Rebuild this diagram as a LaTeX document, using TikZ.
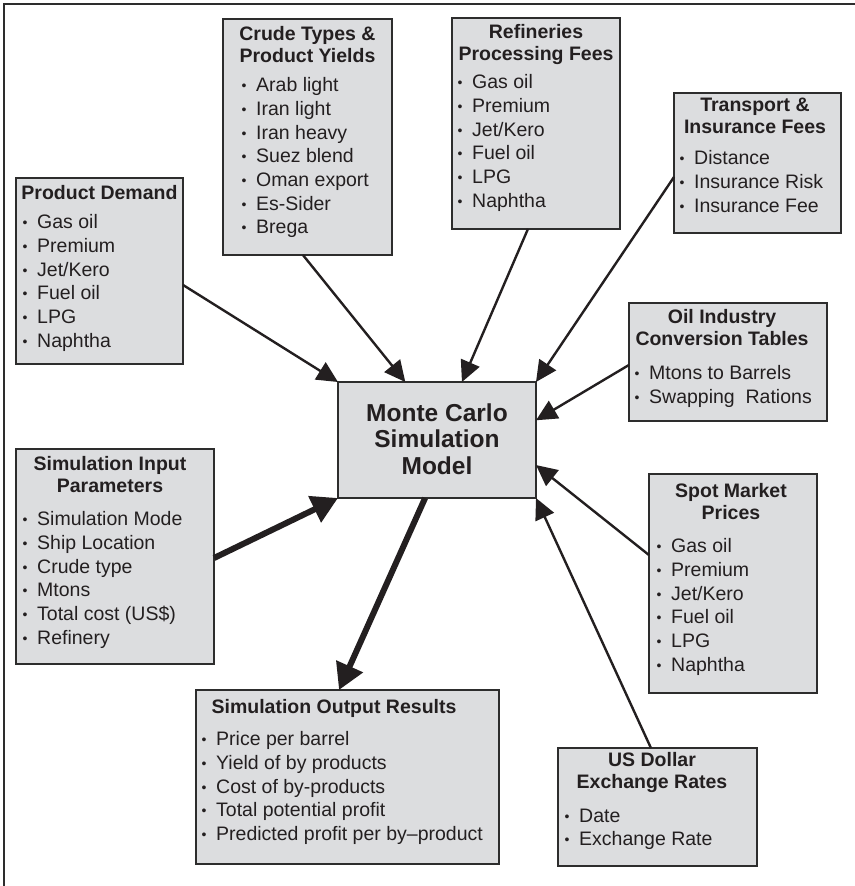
\documentclass[tikz,border=0pt]{standalone}
\usepackage{fontspec}
\setmainfont{Liberation Sans}
\usetikzlibrary{arrows.meta,calc}

\definecolor{boxfill}{RGB}{220,221,223}
\definecolor{inkdark}{RGB}{35,31,32}
\definecolor{edgedark}{RGB}{45,45,45}

% small list bullet followed by a fixed gap before the item text
\newcommand{\blt}{\makebox[14.5pt][l]{\fontsize{14}{14}\selectfont\raisebox{1pt}{•}}}

\tikzset{
  infobox/.style={draw=edgedark, fill=boxfill, line width=1.4pt, inner sep=0pt,
    outer sep=0pt, anchor=north west},
  boxtitle/.style={font=\fontsize{19.5}{22}\selectfont\bfseries, text=inkdark,
    align=center, inner sep=0pt, anchor=north, execute at begin node=\strut},
  modeltitle/.style={font=\fontsize{24.5}{26.5}\selectfont\bfseries, text=inkdark,
    align=center, inner sep=0pt, anchor=north, execute at begin node=\strut},
  itemlist/.style={font=\fontsize{19.5}{23.7}\selectfont, text=inkdark,
    align=left, inner sep=0pt, anchor=north west, execute at begin node=\strut},
  feed/.style={draw=inkdark, line width=2.4pt,
    -{Triangle[length=21pt,width=20pt]}},
  mainflow/.style={draw=inkdark, line width=6pt,
    -{Triangle[length=26pt,width=28pt]}},
}

\begin{document}
\begin{tikzpicture}[x=1pt,y=-1pt]
  \useasboundingbox (0,0) rectangle (854,886);

  % frame edges
  \coordinate (frameTL) at (4,4);
  \coordinate (frameTR) at (860,4);
  \coordinate (frameBL) at (4,892);
  \draw[edgedark, line width=2pt] (frameBL) -- (frameTL) -- (frameTR);

  % boxes
  \node[infobox, minimum width=169pt, minimum height=236pt] (crude) at (223,19) {};
  \node[infobox, minimum width=167pt, minimum height=186pt] (demand) at (16,178) {};
  \node[infobox, minimum width=168pt, minimum height=211pt] (refine) at (452,18) {};
  \node[infobox, minimum width=167pt, minimum height=140pt] (transport) at (674,93) {};
  \node[infobox, minimum width=198pt, minimum height=116pt] (model) at (338,382) {};
  \node[infobox, minimum width=198pt, minimum height=215pt] (input) at (16,449) {};
  \node[infobox, minimum width=198pt, minimum height=118pt] (convert) at (629,303) {};
  \node[infobox, minimum width=168pt, minimum height=219pt] (spot) at (649,474) {};
  \node[infobox, minimum width=303pt, minimum height=174pt] (output) at (196,690) {};
  \node[infobox, minimum width=199pt, minimum height=118pt] (dollar) at (558,748) {};

  % titles (placed by first baseline minus strut height)
  \node[boxtitle] (crudeT) at (307.5,42-15.4) {Crude Types \&\\Product Yields};
  \node[boxtitle] (demandT) at (99.5,199-15.4) {Product Demand};
  \node[boxtitle] (refineT) at (536,40-15.4) {Refineries\\Processing Fees};
  \node[boxtitle] (transportT) at (755,113-15.4) {Transport \&\\Insurance Fees};
  \node[boxtitle] (convertT) at (722,325-15.4) {Oil Industry\\Conversion Tables};
  \node[boxtitle] (inputT) at (110,472-15.4) {Simulation Input\\Parameters};
  \node[boxtitle] (spotT) at (731,499-15.4) {Spot Market\\Prices};
  \node[boxtitle] (outputT) at (334,713-15.4) {Simulation Output Results};
  \node[boxtitle] (dollarT) at (652,768-15.4) {US Dollar\\Exchange Rates};
  \node[modeltitle] (modelT) at (437,422-18.55) {Monte Carlo\\Simulation\\Model};

  % item lists (bullet centre x minus 2.5, first baseline minus strut height)
  \node[itemlist] (crudeL) at (241.5,94-16.6)
    {\blt Arab light\\\blt Iran light\\\blt Iran heavy\\\blt Suez blend\\\blt Oman export\\\blt Es-Sider\\\blt Brega};
  \node[itemlist] (demandL) at (22.5,231-16.6)
    {\blt Gas oil\\\blt Premium\\\blt Jet/Kero\\\blt Fuel oil\\\blt LPG\\\blt Naphtha};
  \node[itemlist] (refineL) at (457.5,91-16.6)
    {\blt Gas oil\\\blt Premium\\\blt Jet/Kero\\\blt Fuel oil\\\blt LPG\\\blt Naphtha};
  \node[itemlist] (transportL) at (679.5,167-16.6)
    {\blt Distance\\\blt Insurance Risk\\\blt Insurance Fee};
  \node[itemlist] (convertL) at (634.5,382-16.6)
    {\blt Mtons to Barrels\\\blt Swapping~ Rations};
  \node[itemlist] (inputL) at (22.5,528-16.6)
    {\blt Simulation Mode\\\blt Ship Location\\\blt Crude type\\\blt Mtons\\\blt Total cost (US\$)\\\blt Refinery};
  \node[itemlist] (spotL) at (656.5,555-16.6)
    {\blt Gas oil\\\blt Premium\\\blt Jet/Kero\\\blt Fuel oil\\\blt LPG\\\blt Naphtha};
  \node[itemlist] (outputL) at (201.5,748-16.6)
    {\blt Price per barrel\\\blt Yield of by products\\\blt Cost of by-products\\\blt Total potential profit\\\blt Predicted profit per by–product};
  \node[itemlist] (dollarL) at (564.5,825-16.6)
    {\blt Date\\\blt Exchange Rate};

  % connectors into the model
  \draw[feed] ($(demand.north east)!0.575!(demand.south east)$) -- (model.north west);
  \draw[feed] ($(crude.south west)!0.473!(crude.south east)$) -- ($(model.north west)!0.34!(model.north east)$);
  \draw[feed] ($(refine.south west)!0.452!(refine.south east)$) -- ($(model.north west)!0.626!(model.north east)$);
  \draw[feed] ($(transport.north west)!0.6!(transport.south west)$) -- (model.north east);
  \draw[feed] ($(convert.north west)!0.525!(convert.south west)$) -- ($(model.north east)!0.33!(model.south east)$);
  \draw[feed] ($(spot.north west)!0.37!(spot.south west)$) -- ($(model.north east)!0.716!(model.south east)$);
  \draw[feed] ($(dollar.north west)!0.467!(dollar.north east)$) -- (model.south east);
  \draw[mainflow] ($(input.north east)!0.507!(input.south east)$) -- (model.south west);
  \draw[mainflow] ($(model.south west)!0.44!(model.south east)$) -- ($(output.north west)!0.472!(output.north east)$);
\end{tikzpicture}
\end{document}
